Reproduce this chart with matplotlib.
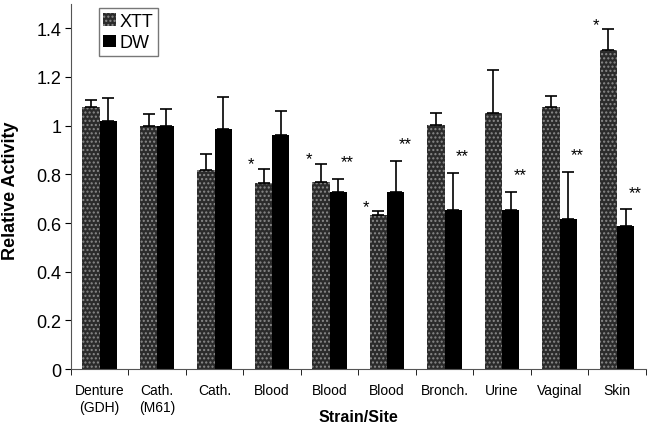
import matplotlib
matplotlib.use("Agg")
import matplotlib.pyplot as plt
import numpy as np
from matplotlib.ticker import FuncFormatter, FixedLocator
from matplotlib.patches import Patch

categories = ["Denture\n(GDH)", "Cath.\n(M61)", "Cath.", "Blood", "Blood", "Blood",
              "Bronch.", "Urine", "Vaginal", "Skin"]
xtt = [1.075, 1.00, 0.818, 0.765, 0.768, 0.631, 1.003, 1.05, 1.078, 1.31]
xtt_top = [1.107, 1.049, 0.883, 0.822, 0.844, 0.648, 1.053, 1.229, 1.12, 1.396]
dw = [1.02, 1.00, 0.988, 0.962, 0.728, 0.728, 0.652, 0.652, 0.617, 0.589]
dw_top = [1.112, 1.07, 1.118, 1.059, 0.781, 0.855, 0.806, 0.729, 0.809, 0.656]
xtt_sig = [False, False, False, True, True, True, False, False, False, True]
dw_sig = [False, False, False, False, True, True, True, True, True, True]
yticks = [0, 0.2, 0.4, 0.6, 0.8, 1.0, 1.2, 1.4]

plt.rcParams['font.family'] = ['Liberation Sans', 'DejaVu Sans']
plt.rcParams['hatch.linewidth'] = 1.0

fig = plt.figure(figsize=(6.51, 4.35), dpi=100)
ax = fig.add_axes([0.109, 0.149, 0.883, 0.840])

x = np.arange(len(categories))
w = 0.3
xtt_arr = np.array(xtt); dw_arr = np.array(dw)
xerr = [np.zeros(len(x)), np.array(xtt_top) - xtt_arr]
derr = [np.zeros(len(x)), np.array(dw_top) - dw_arr]

ax.bar(x - w / 2, xtt, w, color='#2b2b2b', edgecolor='#8a8a8a', linewidth=0,
       hatch='....', label='XTT', zorder=2)
ax.bar(x + w / 2, dw, w, color='black', linewidth=0, label='DW', zorder=2)
ax.errorbar(x - w / 2, xtt, yerr=xerr, fmt='none', ecolor='black', elinewidth=1.2,
            capsize=4, capthick=1.2, zorder=3)
ax.errorbar(x + w / 2, dw, yerr=derr, fmt='none', ecolor='black', elinewidth=1.2,
            capsize=4, capthick=1.2, zorder=3)

for i in range(len(x)):
    if xtt_sig[i]:
        ax.text(x[i] - 0.36, xtt_top[i] + 0.02, '*', ha='center', va='center', fontsize=12)
    if dw_sig[i]:
        ax.text(x[i] + 0.31, dw_top[i] + 0.07, '**', ha='center', va='center', fontsize=12)

ax.set_xlim(-0.5, len(x) - 0.5)
ax.set_ylim(0, 1.5)
ax.set_yticks(yticks)
ax.yaxis.set_major_formatter(FuncFormatter(lambda v, p: '%g' % v))
ax.set_xticks(x)
ax.set_xticklabels(categories, fontsize=10, linespacing=1.3)
ax.xaxis.set_minor_locator(FixedLocator(np.arange(-0.5, len(x), 1.0)))
ax.tick_params(axis='x', which='major', length=0, pad=10)
ax.tick_params(axis='x', which='minor', length=4, direction='out')
ax.tick_params(axis='y', labelsize=13, length=4, direction='out', pad=3)
for s in ['top', 'right']:
    ax.spines[s].set_visible(False)
ax.spines['left'].set_color('#555555')
ax.spines['bottom'].set_color('#555555')

ax.set_ylabel('Relative Activity', fontsize=13, fontweight='bold')
ax.yaxis.set_label_coords(-0.09, 0.49)
ax.set_xlabel('Strain/Site', fontsize=11.5, fontweight='bold', va='center')
ax.xaxis.set_label_coords(0.5, -0.13)

handles = [Patch(facecolor='#2b2b2b', edgecolor='#8a8a8a', linewidth=0, hatch='....'),
           Patch(facecolor='black')]
leg = ax.legend(handles, ['XTT', 'DW'], loc='upper left', bbox_to_anchor=(0.048, 0.988),
                fontsize=13, frameon=True, fancybox=False, edgecolor='#555555',
                handlelength=0.7, handleheight=0.7, handletextpad=0.2,
                borderpad=0.25, labelspacing=0.25, borderaxespad=0)
leg.get_frame().set_linewidth(1.0)

fig.savefig('out.png', dpi=100)
